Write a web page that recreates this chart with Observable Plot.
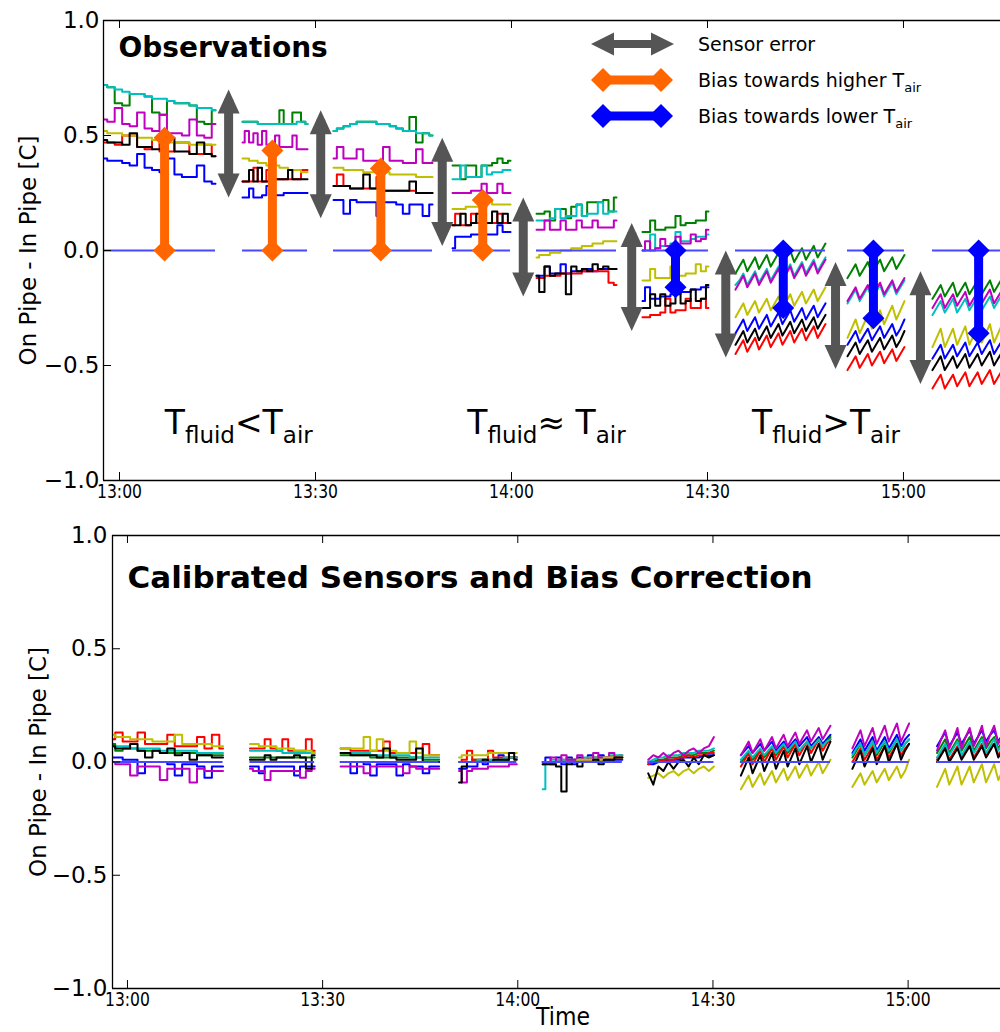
<!DOCTYPE html>
<html><head><meta charset="utf-8">
<script src="https://cdn.jsdelivr.net/npm/d3@7"></script>
<script src="https://cdn.jsdelivr.net/npm/@observablehq/plot@0.6"></script>
<style>
body{margin:0;background:#fff;overflow:hidden;font-family:"DejaVu Sans",sans-serif;}
#chart{position:relative;width:1000px;height:1032px;overflow:hidden;}
#chart svg{display:block;}
</style></head><body><div id="chart"></div>
<script>
// ---------- categories / axes ----------
const sensors = ["b","g","r","c","m","y","k"];
const sensorColors = ["#0000ff","#008000","#ff0000","#00bfbf","#bf00bf","#bfbf00","#000000"];
// segment time spans, minutes after 13:00
const segStart = [-2.45, 18.83, 32.76, 50.97, 63.83, 80.05, 94.29, 111.43, 124.44];
const segEnd   = [14.69, 28.78, 47.91, 59.85, 76.07, 90.15, 108.06, 120.15, 137.0];
const tickMinutes = [0, 30, 60, 90, 120];
const tickLabels = ["13:00","13:30","14:00","14:30","15:00"];
const yTicks = [-1, -0.5, 0, 0.5, 1];
const yTickLabels = ["\u22121.0","\u22120.5","0.0","0.5","1.0"];

// ---------- Observations (top) : sensor values per segment ----------
const obsSeg1 = {
  b:[.40,.39,.39,.38,.37,.42,.36,.35,.34,.40,.33,.32,.32,.37,.30,.29],
  g:[.72,.71,.64,.63,.68,.68,.67,.60,.59,.65,.64,.64,.63,.56,.55,.61],
  r:[.47,.47,.46,.50,.50,.45,.44,.48,.43,.43,.47,.47,.42,.42,.46,.41],
  c:[.72,.71,.70,.69,.68,.68,.67,.66,.66,.65,.64,.64,.63,.62,.62,.61],
  m:[.57,.56,.62,.55,.54,.60,.53,.52,.59,.51,.51,.50,.57,.50,.49,.55],
  y:[.52,.51,.51,.50,.50,.49,.49,.48,.48,.47,.47,.47,.46,.46,.46,.46],
  k:[.48,.47,.47,.46,.51,.45,.45,.44,.44,.49,.43,.43,.42,.47,.42,.41]};
const obsSeg2 = {
  b:[.23,.23,.27,.23,.23,.24,.28,.24,.24,.24,.25,.25,.25,.25,.25,.25],
  g:[.56,.56,.56,.56,.55,.55,.55,.55,.55,.61,.55,.55,.60,.60,.56,.55],
  r:[.30,.30,.30,.36,.30,.30,.35,.35,.31,.31,.31,.31,.31,.31,.35,.35],
  c:[.56,.56,.56,.56,.55,.55,.55,.55,.55,.55,.55,.55,.55,.56,.56,.55],
  m:[.47,.52,.47,.51,.46,.52,.46,.46,.50,.45,.45,.45,.50,.44,.44,.44],
  y:[.40,.40,.39,.39,.38,.38,.37,.37,.37,.36,.36,.35,.35,.35,.34,.34],
  k:[.30,.30,.35,.30,.36,.30,.30,.30,.31,.31,.31,.35,.31,.31,.31,.31]};
const obsSeg3 = {
  b:[.22,.22,.16,.22,.21,.21,.21,.15,.21,.21,.20,.16,.20,.20,.15,.20],
  g:[.52,.53,.54,.55,.56,.56,.56,.55,.55,.54,.53,.52,.58,.47,.51,.50],
  r:[.28,.33,.28,.27,.27,.27,.27,.32,.26,.26,.26,.26,.26,.25,.25,.25],
  c:[.52,.53,.54,.55,.56,.56,.56,.55,.55,.54,.53,.52,.52,.51,.51,.50],
  m:[.40,.45,.40,.40,.44,.39,.39,.39,.45,.39,.39,.38,.38,.44,.38,.38],
  y:[.36,.36,.35,.35,.35,.34,.34,.34,.34,.33,.33,.33,.33,.32,.32,.32],
  k:[.28,.28,.28,.27,.27,.33,.27,.27,.26,.26,.26,.26,.30,.25,.25,.25]};
const obsSeg4 = {
  b:[.01,.06,.06,.06,.07,.07,.07,.07,.07,.11,.08,.08],
  g:[.37,.37,.31,.37,.37,.32,.37,.37,.38,.40,.38,.39],
  r:[.11,.16,.11,.11,.16,.12,.12,.12,.12,.16,.12,.12],
  c:[.31,.31,.37,.32,.32,.32,.37,.33,.34,.34,.35,.35],
  m:[.25,.25,.25,.25,.26,.26,.29,.25,.25,.29,.25,.25],
  y:[.18,.18,.18,.19,.19,.19,.19,.22,.20,.20,.20,.20],
  k:[.11,.11,.16,.11,.12,.16,.12,.12,.17,.12,.16,.12]};
const obsSeg5 = {
  b:[-.11,-.11,-.07,-.10,-.10,-.06,-.10,-.09,-.09,-.09,-.08,-.09,-.08,-.08,-.08,-.08],
  g:[.16,.16,.17,.13,.18,.18,.14,.19,.20,.15,.21,.21,.21,.22,.17,.23],
  r:[-.12,-.12,-.11,-.11,-.11,-.10,-.10,-.10,-.10,-.09,-.09,-.09,-.09,-.09,-.14,-.15],
  c:[.13,.13,.13,.14,.18,.14,.15,.15,.20,.15,.16,.16,.21,.16,.17,.17],
  m:[.09,.09,.13,.09,.09,.13,.09,.09,.13,.10,.10,.13,.10,.10,.10,.13],
  y:[-.03,-.02,-.02,-.01,-.01,.00,.00,.01,.01,.02,.02,.03,.03,.04,.04,.04],
  k:[-.11,-.18,-.07,-.11,-.10,-.10,-.19,-.07,-.09,-.08,-.09,-.06,-.08,-.07,-.08,-.08]};
const obsSeg6 = {
  b:[-.22,-.16,-.21,-.21,-.20,-.20,-.19,-.19,-.18,-.18,-.17,-.17,-.16,-.16],
  g:[.08,.08,.13,.09,.09,.10,.10,.15,.11,.12,.12,.13,.13,.17],
  r:[-.29,-.29,-.28,-.28,-.27,-.21,-.27,-.26,-.26,-.21,-.25,-.25,-.21,-.25],
  c:[.00,.00,.07,.01,.02,.02,.03,.08,.04,.04,.05,.06,.06,.07],
  m:[.00,.04,.00,.01,.05,.02,.02,.06,.03,.03,.07,.04,.05,.09],
  y:[-.13,-.13,-.08,-.12,-.12,-.12,-.07,-.11,-.11,-.10,-.10,-.06,-.09,-.07],
  k:[-.25,-.25,-.19,-.24,-.19,-.24,-.23,-.18,-.23,-.22,-.17,-.22,-.21,-.15]};
const obsSeg7 = {
  b:[-.36,-.33,-.30,-.35,-.32,-.29,-.34,-.31,-.28,-.33,-.30,-.27,-.32,-.29,-.26,-.31,-.28,-.25,-.30,-.27,-.24,-.29,-.26,-.23],
  g:[-.10,-.07,-.04,-.09,-.06,-.03,-.08,-.05,-.02,-.07,-.04,-.01,-.06,-.03,.00,-.05,-.02,.01,-.04,-.01,.02,-.03,.00,.03],
  r:[-.45,-.42,-.39,-.44,-.41,-.38,-.43,-.40,-.37,-.42,-.39,-.36,-.41,-.38,-.35,-.40,-.37,-.34,-.39,-.36,-.33,-.38,-.35,-.32],
  c:[-.15,-.13,-.10,-.15,-.12,-.09,-.14,-.11,-.08,-.13,-.10,-.07,-.12,-.09,-.06,-.11,-.08,-.05,-.10,-.07,-.04,-.09,-.06,-.03],
  m:[-.17,-.14,-.11,-.16,-.13,-.10,-.15,-.12,-.09,-.14,-.11,-.08,-.13,-.10,-.07,-.12,-.09,-.06,-.11,-.08,-.05,-.10,-.07,-.04],
  y:[-.29,-.26,-.23,-.28,-.25,-.22,-.27,-.24,-.21,-.26,-.23,-.20,-.25,-.22,-.19,-.24,-.21,-.18,-.23,-.20,-.17,-.22,-.19,-.16],
  k:[-.41,-.38,-.35,-.40,-.37,-.34,-.39,-.36,-.33,-.38,-.35,-.32,-.37,-.34,-.31,-.36,-.33,-.30,-.35,-.32,-.29,-.34,-.31,-.28]};
const obsSeg8 = {
  b:[-.41,-.38,-.35,-.40,-.37,-.34,-.39,-.36,-.33,-.38,-.35,-.32,-.37,-.34,-.30],
  g:[-.12,-.09,-.06,-.11,-.08,-.05,-.10,-.07,-.04,-.09,-.06,-.03,-.08,-.05,-.02],
  r:[-.52,-.49,-.46,-.51,-.48,-.45,-.50,-.47,-.44,-.49,-.46,-.43,-.48,-.45,-.42],
  c:[-.23,-.20,-.17,-.22,-.19,-.16,-.21,-.18,-.15,-.20,-.17,-.14,-.19,-.16,-.13],
  m:[-.22,-.19,-.16,-.21,-.18,-.15,-.20,-.17,-.14,-.19,-.16,-.13,-.18,-.15,-.12],
  y:[-.38,-.34,-.30,-.36,-.32,-.28,-.34,-.30,-.26,-.32,-.28,-.24,-.30,-.26,-.22],
  k:[-.46,-.43,-.40,-.45,-.42,-.39,-.44,-.41,-.38,-.43,-.40,-.37,-.42,-.39,-.35]};
const obsSeg9 = {
  b:[-.47,-.44,-.41,-.47,-.44,-.41,-.46,-.43,-.40,-.46,-.43,-.40,-.45,-.42,-.39,-.45,-.42,-.39,-.44,-.41,-.38],
  g:[-.21,-.18,-.15,-.20,-.17,-.14,-.20,-.17,-.14,-.19,-.16,-.13,-.19,-.16,-.13,-.18,-.15,-.12,-.17,-.14,-.11],
  r:[-.60,-.57,-.54,-.60,-.57,-.54,-.59,-.56,-.53,-.59,-.56,-.53,-.58,-.55,-.52,-.58,-.55,-.52,-.57,-.54,-.51],
  c:[-.28,-.25,-.22,-.27,-.24,-.21,-.27,-.24,-.21,-.26,-.23,-.20,-.26,-.23,-.20,-.25,-.22,-.19,-.25,-.22,-.19],
  m:[-.25,-.22,-.19,-.25,-.22,-.19,-.24,-.21,-.18,-.24,-.21,-.18,-.23,-.20,-.17,-.23,-.20,-.17,-.22,-.19,-.16],
  y:[-.42,-.38,-.34,-.42,-.38,-.34,-.41,-.37,-.33,-.41,-.37,-.33,-.40,-.36,-.32,-.40,-.36,-.32,-.39,-.35,-.31],
  k:[-.52,-.49,-.46,-.52,-.49,-.46,-.51,-.48,-.45,-.51,-.48,-.45,-.50,-.47,-.44,-.50,-.47,-.44,-.49,-.46,-.43]};

// ---------- Calibrated (bottom) ----------
const calSeg1 = {
  b:[.02,.02,.01,.01,-.05,.00,.00,.00,-.01,-.06,-.01,-.01,-.02,-.07,-.02,-.02],
  g:[.08,.05,.06,.06,.05,.05,.05,.04,.04,.04,.04,.04,.03,.03,.03,.03],
  r:[.10,.13,.09,.09,.13,.08,.08,.08,.12,.07,.07,.07,.11,.06,.12,.06],
  c:[.07,.07,.07,.06,.06,.06,.06,.05,.05,.05,.05,.05,.04,.04,.04,.04],
  m:[.00,-.01,-.01,-.06,-.02,-.02,-.02,-.08,-.03,-.03,-.03,-.09,-.03,-.04,-.04,-.04],
  y:[.12,.11,.11,.10,.10,.10,.09,.09,.09,.12,.08,.08,.08,.08,.07,.07],
  k:[.07,.06,.06,.08,.05,.02,.05,.04,.06,.03,.04,.01,.03,.03,.02,.02]};
const calSeg2 = {
  b:[-.02,-.02,-.05,-.02,-.02,-.02,-.02,-.02,-.06,-.02,-.02,-.02],
  g:[.02,.02,.02,.02,.02,.02,.02,.02,.02,.02,.02,.02],
  r:[.06,.06,.06,.10,.06,.05,.10,.05,.05,.05,.10,.05],
  c:[.05,.05,.05,.05,.05,.05,.04,.04,.04,.04,.04,.04],
  m:[-.03,-.04,-.04,-.08,-.04,-.04,-.04,-.04,-.04,-.07,-.04,-.03],
  y:[.08,.08,.07,.07,.07,.06,.06,.06,.05,.05,.05,.04],
  k:[.01,.01,.01,.03,.01,.02,.02,.02,.03,.02,-.03,.03]};
const calSeg3 = {
  b:[.00,.00,-.05,.00,-.01,-.06,-.01,-.01,-.01,-.06,-.01,-.02,-.02,-.05,-.02,-.02],
  g:[.03,.03,.03,.03,.03,.02,.02,.02,.02,.02,.02,.02,.02,.01,.01,.01],
  r:[.06,.06,.05,.05,.05,.05,.05,.09,.04,.04,.04,.04,.04,.08,.03,.03],
  c:[.04,.04,.04,.04,.04,.03,.03,.03,.03,.03,.03,.02,.02,.02,.02,.02],
  m:[-.02,-.02,-.02,-.02,-.05,-.02,-.02,-.02,-.02,-.02,-.05,-.02,-.03,-.03,-.03,-.03],
  y:[.06,.06,.06,.06,.11,.05,.10,.05,.05,.04,.04,.09,.04,.03,.03,.03],
  k:[.04,.04,.03,.03,.03,.03,.02,.06,.02,.01,.01,.01,.06,.00,.00,.00]};
const calSeg4 = {
  b:[-.03,-.03,-.02,-.02,.00,-.01,.00,.01,.03,.01,.02,.02],
  g:[.00,.00,.00,.01,.01,.01,.01,.01,.01,.01,.02,.02],
  r:[.00,.01,.05,.01,.01,.01,.05,.02,.02,.02,.02,.02],
  c:[.00,.00,.00,.00,.01,.01,.01,.01,.01,.02,.02,.02],
  m:[-.04,-.09,-.04,-.03,-.03,-.03,-.02,-.02,-.02,-.02,-.01,-.01],
  y:[.02,.03,.03,.03,.03,.03,.04,.04,.04,.04,.04,.04],
  k:[-.09,-.02,.00,.00,.00,.01,.00,.01,.01,.01,.04,.01]};
const calSeg5 = {
  b:[-.01,.02,-.01,.02,-.01,.02,-.01,.02,.00,.03,.00,.03,.01,.01,.01,.01],
  g:[.00,.00,.00,.00,.00,.01,.01,.01,.01,.01,.01,.01,.02,.02,.02,.02],
  r:[.00,.00,.00,.01,.01,.01,.01,.01,.01,.02,.02,.02,.02,.02,.02,.03],
  c:[-.12,.00,.01,.01,.01,.01,.01,.01,.02,.02,.02,.02,.02,.03,.03,.03],
  m:[.00,.00,.02,.00,.03,.01,.01,.03,.01,.01,.04,.02,.02,.04,.02,.02],
  y:[-.01,-.01,-.01,.00,.00,.00,.00,.01,.01,.01,.01,.01,.02,.02,.02,.02],
  k:[-.01,-.01,-.01,-.02,-.13,-.01,.00,-.02,.00,.00,.01,-.01,.01,.01,.02,.02]};
const calSeg6 = {
  b:[-.01,-.01,.00,.00,.01,.01,.01,.02,.02,.02,.02,.03,.03,.03],
  g:[.00,.00,.01,.01,.02,.02,.02,.03,.03,.03,.04,.04,.04,.05],
  r:[-.01,.00,.00,.01,.01,.01,.02,.02,.03,.02,.03,.03,.04,.04],
  c:[.00,.01,.02,.02,.03,.03,.03,.04,.04,.04,.05,.05,.05,.06],
  m:[.01,.03,.02,.04,.02,.04,.05,.03,.05,.06,.04,.06,.07,.11],
  y:[-.07,-.06,-.05,-.07,-.05,-.04,-.06,-.04,-.03,-.05,-.03,-.02,-.04,-.02],
  k:[-.05,-.10,-.02,-.04,.00,-.03,.00,.01,-.02,.02,-.01,.03,.02,.03]};
const calSeg7 = {
  b:[.03,.05,.07,.04,.06,.08,.05,.07,.09,.05,.07,.09,.06,.08,.10,.07,.09,.11,.07,.09,.11,.08,.10,.12],
  g:[.00,.02,.04,.01,.03,.05,.02,.04,.06,.03,.05,.07,.04,.06,.08,.05,.07,.09,.06,.08,.10,.07,.09,.11],
  r:[-.02,.01,.04,-.01,.02,.05,.00,.03,.06,.01,.04,.07,.02,.05,.08,.03,.06,.09,.04,.07,.10,.05,.08,.10],
  c:[.01,.03,.05,.02,.04,.06,.03,.05,.07,.04,.06,.08,.05,.07,.09,.05,.07,.09,.06,.08,.10,.07,.09,.10],
  m:[.03,.06,.09,.04,.07,.10,.05,.08,.11,.06,.09,.12,.07,.10,.13,.08,.11,.14,.09,.12,.15,.10,.13,.16],
  y:[-.12,-.09,-.06,-.11,-.08,-.05,-.10,-.07,-.04,-.09,-.06,-.03,-.08,-.05,-.02,-.07,-.04,-.01,-.06,-.03,.00,-.05,-.02,.01],
  k:[-.06,-.02,.02,-.05,-.01,.03,-.04,.00,.04,-.03,.01,.05,-.02,.02,.06,-.01,.03,.07,.00,.04,.08,.01,.05,.09]};
const calSeg8 = {
  b:[.04,.07,.10,.05,.08,.11,.05,.08,.11,.06,.09,.12,.07,.10,.12],
  g:[.02,.05,.08,.03,.06,.09,.03,.06,.09,.04,.07,.10,.05,.08,.10],
  r:[.00,.03,.06,.01,.04,.07,.01,.04,.07,.02,.05,.08,.03,.06,.08],
  c:[.03,.06,.08,.03,.06,.09,.04,.07,.09,.05,.07,.10,.05,.08,.10],
  m:[.06,.10,.14,.07,.11,.15,.08,.12,.16,.09,.13,.17,.09,.13,.17],
  y:[-.11,-.08,-.05,-.10,-.07,-.04,-.09,-.06,-.03,-.08,-.05,-.02,-.07,-.04,.01],
  k:[-.03,.01,.05,-.02,.02,.06,-.01,.03,.07,.00,.04,.08,.01,.05,.08]};
const calSeg9 = {
  b:[.07,.10,.13,.07,.10,.13,.08,.11,.14,.08,.11,.14,.09,.12,.14,.09,.12,.15,.09,.12,.15],
  g:[.04,.07,.10,.04,.07,.10,.05,.08,.11,.05,.08,.11,.06,.09,.11,.06,.09,.12,.06,.09,.12],
  r:[.01,.04,.07,.01,.04,.07,.02,.05,.08,.02,.05,.08,.03,.06,.08,.03,.06,.09,.04,.06,.09],
  c:[.02,.05,.08,.03,.06,.09,.03,.06,.09,.04,.07,.10,.04,.07,.10,.05,.08,.10,.05,.08,.11],
  m:[.05,.10,.14,.06,.10,.15,.06,.11,.15,.07,.11,.16,.07,.12,.16,.08,.12,.17,.08,.13,.17],
  y:[-.11,-.07,-.03,-.10,-.06,-.02,-.10,-.06,-.02,-.09,-.05,-.01,-.09,-.05,-.01,-.08,-.04,.00,-.08,-.04,.00],
  k:[.00,.03,.06,.00,.03,.06,.01,.04,.07,.01,.04,.07,.02,.05,.08,.02,.05,.08,.03,.05,.08]};

const obsSegs = [obsSeg1,obsSeg2,obsSeg3,obsSeg4,obsSeg5,obsSeg6,obsSeg7,obsSeg8,obsSeg9];
const calSegs = [calSeg1,calSeg2,calSeg3,calSeg4,calSeg5,calSeg6,calSeg7,calSeg8,calSeg9];

// ---------- annotations (top panel) ----------
const errX   = [16.7, 30.8, 49.4, 61.8, 78.4, 92.8, 109.6, 122.6];
const errTop = [0.70, 0.61, 0.49, 0.23, 0.12, 0.00, -0.05, -0.09];
const errBot = [0.23, 0.14, 0.02, -0.20, -0.35, -0.465, -0.515, -0.58];
const hiX    = [6.9, 23.4, 40.0, 55.6];
const hiTop  = [0.49, 0.435, 0.357, 0.22];
const hiBot  = [0, 0, 0, 0];
const loX    = [85.1, 101.6, 115.4, 131.5];
const loTop  = [0, 0, 0, 0];
const loBot  = [-0.16, -0.25, -0.295, -0.36];
const regimeX = [7.0, 53.3, 96.9];
const regimeY = [-0.80, -0.80, -0.80];
const regimeRel = ["<", "\u2248 ", ">"];
const legendLabels = ["Sensor error", "Bias towards higher T", "Bias towards lower T"];

// ---------- helpers ----------
function buildRows(segs) {
  const rows = [];
  sensors.forEach(k => segs.forEach((seg, s) => {
    const vals = seg[k], n = vals.length;
    vals.forEach((v, j) => rows.push({sensor: k, seg: s,
      t: segStart[s] + j * (segEnd[s] - segStart[s]) / (n - 1), v}));
  }));
  return rows;
}
const FONT = "DejaVu Sans";
const head = {draw(ctx){ctx.moveTo(0,-12);ctx.lineTo(11,12);ctx.lineTo(-11,12);ctx.closePath();}};
const diamond = {draw(ctx){ctx.moveTo(0,-11);ctx.lineTo(11,0);ctx.lineTo(0,11);ctx.lineTo(-11,0);ctx.closePath();}};

function panel(o) {
  const rows = buildRows(o.segs);
  const fw = 1000 - o.marginLeft, fh = o.height - o.marginTop - o.marginBottom;
  const segIdx = segStart.map((_, i) => i);
  const marks = [
    Plot.line(rows.filter(d => o.stepSegs.includes(d.seg)), {x:"t", y:"v", z: d => d.sensor + d.seg, stroke:"sensor", strokeWidth:2, curve:"step", clip:true}),
    Plot.line(rows.filter(d => !o.stepSegs.includes(d.seg)), {x:"t", y:"v", z: d => d.sensor + d.seg, stroke:"sensor", strokeWidth:2, curve:"linear", clip:true}),
    Plot.ruleY(segIdx, {y: () => 0, x1: i => segStart[i], x2: i => segEnd[i], stroke:"#4848ff", strokeWidth:2, clip:true}),
    ...(o.extra || []),
    Plot.ruleY([-1, 1], {stroke:"black", strokeWidth:1.3}),
    Plot.ruleX([o.xDomain[0]], {stroke:"black", strokeWidth:1.3}),
    Plot.tickX(tickMinutes, {x: d => d, insetTop: fh - 8, stroke:"black"}),
    Plot.tickX(tickMinutes, {x: d => d, insetBottom: fh - 8, stroke:"black"}),
    Plot.tickY(yTicks, {y: d => d, insetRight: fw - 8, stroke:"black"}),
    Plot.axisY(yTicks, {tickSize:0, tickPadding:o.yPad, fontSize:23, label:null, tickFormat: d => yTickLabels[yTicks.indexOf(d)]}),
    Plot.axisX(tickMinutes, {tickSize:0, tickPadding:4, fontSize:19, label:null, tickFormat: d => tickLabels[tickMinutes.indexOf(d)]}),
    Plot.text(["On Pipe - In Pipe [C]"], {frameAnchor:"left", textAnchor:"middle", dx:o.ylabDx, rotate:-90, fontSize:23}),
    Plot.text([o.title], {frameAnchor:"top-left", textAnchor:"start", lineAnchor:"top", dx:15, dy:o.titleDy, fontSize:o.titleSize, fontWeight:"bold"})
  ];
  const svg = Plot.plot({
    width:1000, height:o.height, marginLeft:o.marginLeft, marginRight:0,
    marginTop:o.marginTop, marginBottom:o.marginBottom,
    x:{domain:o.xDomain, label:null}, y:{domain:[-1,1], label:null},
    color:{domain:sensors, range:sensorColors},
    style:{fontFamily:FONT, color:"black", background:"white", overflow:"visible"},
    marks
  });
  d3.select(svg).selectAll('g[aria-label="x-axis tick label"] text')
    .attr("textLength", 45).attr("lengthAdjust", "spacingAndGlyphs");
  return svg;
}

const annoIdxE = errX.map((_, i) => i), annoIdxH = hiX.map((_, i) => i), annoIdxL = loX.map((_, i) => i);
const GRAY = "#555555", ORANGE = "#ff6600", BLUE = "#0000ff";
const topExtra = [
  Plot.ruleX(annoIdxE, {x: i => errX[i], y1: i => errTop[i], y2: i => errBot[i], stroke:GRAY, strokeWidth:9, insetTop:10, insetBottom:10}),
  Plot.dot(annoIdxE, {x: i => errX[i], y: i => errTop[i], symbol:head, fill:GRAY, stroke:"none", dy:12}),
  Plot.dot(annoIdxE, {x: i => errX[i], y: i => errBot[i], symbol:head, fill:GRAY, stroke:"none", rotate:180, dy:-12}),
  Plot.ruleX(annoIdxH, {x: i => hiX[i], y1: i => hiTop[i], y2: i => hiBot[i], stroke:ORANGE, strokeWidth:9}),
  Plot.dot(annoIdxH, {x: i => hiX[i], y: i => hiTop[i], symbol:diamond, fill:ORANGE, stroke:"none"}),
  Plot.dot(annoIdxH, {x: i => hiX[i], y: i => hiBot[i], symbol:diamond, fill:ORANGE, stroke:"none"}),
  Plot.ruleX(annoIdxL, {x: i => loX[i], y1: i => loTop[i], y2: i => loBot[i], stroke:BLUE, strokeWidth:9}),
  Plot.dot(annoIdxL, {x: i => loX[i], y: i => loTop[i], symbol:diamond, fill:BLUE, stroke:"none"}),
  Plot.dot(annoIdxL, {x: i => loX[i], y: i => loBot[i], symbol:diamond, fill:BLUE, stroke:"none"})
];

const topSvg = panel({segs:obsSegs, stepSegs:[0,1,2,3,4,5], height:505, marginTop:20, marginBottom:25, marginLeft:103,
  xDomain:[-2.45, 134.85], title:"Observations", titleSize:28, titleDy:17, yPad:4, ylabDx:-75, extra:topExtra});
const bottomSvg = panel({segs:calSegs, stepSegs:[0,1,2,3,4], height:527, marginTop:30, marginBottom:44, marginLeft:112,
  xDomain:[-2.3, 134.2], title:"Calibrated Sensors and Bias Correction", titleSize:31, titleDy:30, yPad:5, ylabDx:-74, extra:[]});

const chart = document.getElementById("chart");
chart.append(topSvg, bottomSvg);

// regime labels with subscripts
const xs = topSvg.scale("x"), ys = topSvg.scale("y");
const tg = d3.select(topSvg).append("g").attr("font-family", FONT).attr("fill", "black").attr("text-anchor", "start");
regimeX.forEach((x, i) => {
  const t = tg.append("text").attr("x", xs.apply(x)).attr("y", ys.apply(regimeY[i])).attr("font-size", 33);
  t.append("tspan").text("T");
  t.append("tspan").attr("font-size", 23).attr("dy", 9).text("fluid");
  t.append("tspan").attr("dy", -9).text(regimeRel[i] + "T");
  t.append("tspan").attr("font-size", 23).attr("dy", 9).text("air");
});

// legend
const lg = d3.select(topSvg).append("g").attr("font-family", FONT).attr("text-anchor", "start");
const rowY = [44, 80, 116];
lg.append("path").attr("fill", GRAY)
  .attr("d", `M591,${rowY[0]} L614,${rowY[0]-11.5} L614,${rowY[0]-4} L651,${rowY[0]-4} L651,${rowY[0]-11.5} L674,${rowY[0]} L651,${rowY[0]+11.5} L651,${rowY[0]+4} L614,${rowY[0]+4} L614,${rowY[0]+11.5} Z`);
[[ORANGE, rowY[1]], [BLUE, rowY[2]]].forEach(([c, y]) => {
  lg.append("rect").attr("x", 603).attr("y", y - 4.5).attr("width", 58).attr("height", 9).attr("fill", c);
  [603, 661].forEach(cx => lg.append("path").attr("fill", c)
    .attr("d", `M${cx},${y-12} L${cx+12},${y} L${cx},${y+12} L${cx-12},${y} Z`));
});
legendLabels.forEach((s, i) => {
  const t = lg.append("text").attr("x", 698).attr("y", rowY[i] + 7).attr("font-size", 19);
  t.append("tspan").text(s);
  if (i > 0) t.append("tspan").attr("font-size", 13).attr("dy", 5).text("air");
});

// x label
d3.select(bottomSvg).append("text").attr("x", 563).attr("y", 520).attr("text-anchor", "middle")
  .attr("font-family", FONT).attr("font-size", 24).attr("textLength", 54).attr("lengthAdjust", "spacingAndGlyphs").text("Time");
</script></body></html>
